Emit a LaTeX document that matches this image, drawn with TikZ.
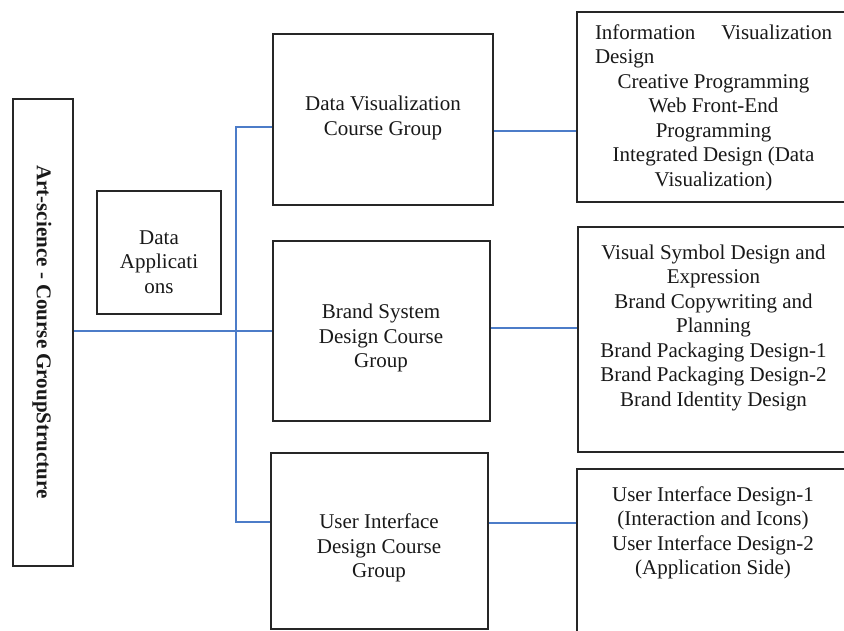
\documentclass[tikz,border=0pt]{standalone}
\usepackage{fontspec}
\setmainfont{Liberation Serif}
\definecolor{linkblue}{RGB}{76,124,200}
\begin{document}
\begin{tikzpicture}[x=1pt,y=-1pt,
  box/.style={draw=black!85,line width=1.5pt,inner sep=0pt,rectangle},
  lbl/.style={font=\fontsize{21}{24.5}\selectfont,align=center,inner sep=0pt,text=black!90},
  link/.style={draw=linkblue,line width=1.3pt}]
\useasboundingbox (0,0) rectangle (844,630);
\clip (0,0) rectangle (844,630);
\fill[white] (0,0) rectangle (844,630);
% boxes
\node[box,minimum width=60pt,minimum height=467pt] (root) at (43,332.5) {};
\node[box,minimum width=124pt,minimum height=123pt] (dapp) at (159,252.5) {};
\node[box,minimum width=220pt,minimum height=171pt] (dv) at (383,119.5) {};
\node[box,minimum width=217pt,minimum height=180pt] (brand) at (381.5,331) {};
\node[box,minimum width=217pt,minimum height=176pt] (ui) at (379.5,541) {};
\node[box,minimum width=272pt,minimum height=190pt] (r1) at (713,107) {};
\node[box,minimum width=271pt,minimum height=225pt] (r2) at (713.5,339.5) {};
\node[box,minimum width=272pt,minimum height=191pt] (r3) at (713,564.5) {};
% texts
\node[lbl,rotate=-90,font=\fontsize{21}{24.5}\selectfont\bfseries] (roottxt) at (42,332) {Art-science - Course GroupStructure};
\node[lbl] (dapptxt) at (159,262) {Data\\Applicati\\ons};
\node[lbl] (dvtxt) at (383,118) {Data Visualization\\Course Group};
\node[lbl] (brandtxt) at (381,338) {Brand System\\Design Course\\Group};
\node[lbl] (uitxt) at (379,548) {User Interface\\Design Course\\Group};
\node[lbl,anchor=north] (r1txt) at (713.5,24.5) {\makebox[237pt][s]{Information\hfill Visualization}\\
  \makebox[237pt][l]{Design}\\
  Creative Programming\\ Web Front-End\\ Programming\\ Integrated Design (Data\\ Visualization)};
\node[lbl,anchor=north] (r2txt) at (713.5,244.5) {Visual Symbol Design and\\ Expression\\ Brand Copywriting and\\ Planning\\ Brand Packaging Design-1\\ Brand Packaging Design-2\\ Brand Identity Design};
\node[lbl,anchor=north] (r3txt) at (713,486.5) {User Interface Design-1\\ (Interaction and Icons)\\ User Interface Design-2\\ (Application Side)};
% connectors
\coordinate (ttop) at (236,127);
\coordinate (tbot) at (236,522);
\coordinate (y1) at (0,131);
\coordinate (y2) at (0,328);
\coordinate (y3) at (0,523);
\draw[link] (brand.west -| root.east) -- (brand.west);
\draw[link] (dv.west |- ttop) -- (ttop) -- (tbot) -- (ui.west |- tbot);
\draw[link] (dv.east |- y1) -- (r1.west |- y1);
\draw[link] (brand.east |- y2) -- (r2.west |- y2);
\draw[link] (ui.east |- y3) -- (r3.west |- y3);
\end{tikzpicture}
\end{document}
